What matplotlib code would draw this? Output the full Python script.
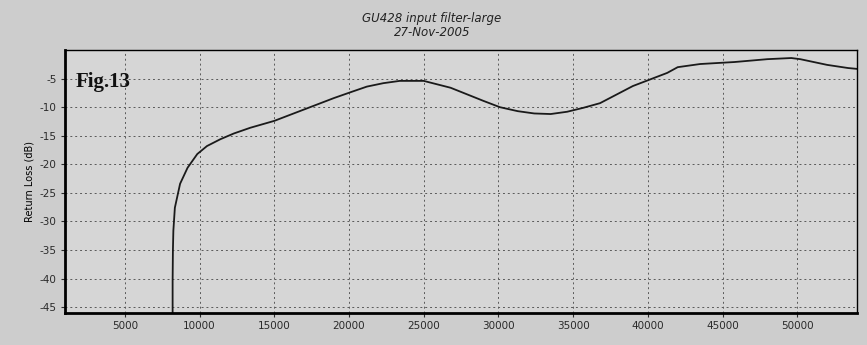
import matplotlib
matplotlib.use("Agg")
from matplotlib import pyplot as plt

# return loss
freq = [8200, 8200, 8220, 8250, 8350, 8700, 9200, 9850, 10500, 11400, 12300,
        13400, 15000, 16700, 19000, 20200, 21200, 22300, 23400, 25000, 26800, 29000, 30100,
        31300, 32400, 33500, 34600, 35700, 36800, 39000, 41300, 42000, 43500, 45800, 48000,
        49600, 50200, 52000, 53400, 54000]
return_loss = [-46, -40.4, -35, -31.6, -27.6, -23.4, -20.6, -18.2, -16.8, -15.6, -14.6,
               -13.6, -12.4, -10.7, -8.4, -7.3, -6.4, -5.8, -5.4, -5.4, -6.6, -8.9, -10.0,
               -10.7, -11.1, -11.2, -10.8, -10.1, -9.3, -6.3, -4.0, -3.0, -2.45, -2.1, -1.6,
               -1.4, -1.6, -2.6, -3.15, -3.3]

x_ticks = [5000, 10000, 15000, 20000, 25000, 30000, 35000, 40000, 45000, 50000]
y_ticks = [-5, -10, -15, -20, -25, -30, -35, -40, -45]

fig = plt.figure(figsize=(8.67, 3.45), dpi=100, facecolor='#cdcdcd')
ax = fig.add_axes([0.075, 0.093, 0.9135, 0.762], facecolor='#d6d6d6')

ax.plot(freq, return_loss, color='#1a1a1a', linewidth=1.3)

ax.set_xlim(1000, 54000)
ax.set_ylim(-46, 0)
ax.set_xticks(x_ticks)
ax.set_xticklabels([str(v) for v in x_ticks])
ax.set_yticks(y_ticks)
ax.set_yticklabels([str(v) for v in y_ticks])
ax.tick_params(axis='both', labelsize=7.5, length=3, width=0.8, colors='#2a2a2a', pad=3)
ax.grid(True, color='#5a5a5a', linestyle=(0, (2, 3)), linewidth=0.7)

ax.spines['left'].set_linewidth(2.0)
ax.spines['bottom'].set_linewidth(2.0)
ax.spines['top'].set_linewidth(1.0)
ax.spines['right'].set_linewidth(1.0)

ax.set_ylabel('Return Loss (dB)', fontsize=7, labelpad=4)

fig.text(0.498, 0.927, 'GU428 input filter-large\n27-Nov-2005', ha='center', va='center',
         fontsize=8.5, style='italic', linespacing=1.1, color='#222222')
ax.text(0.013, 0.86, 'Fig.13', transform=ax.transAxes, fontsize=15, fontweight='bold',
        family='Liberation Serif', color='#111111')

fig.savefig('out.png', dpi=100, facecolor=fig.get_facecolor())
